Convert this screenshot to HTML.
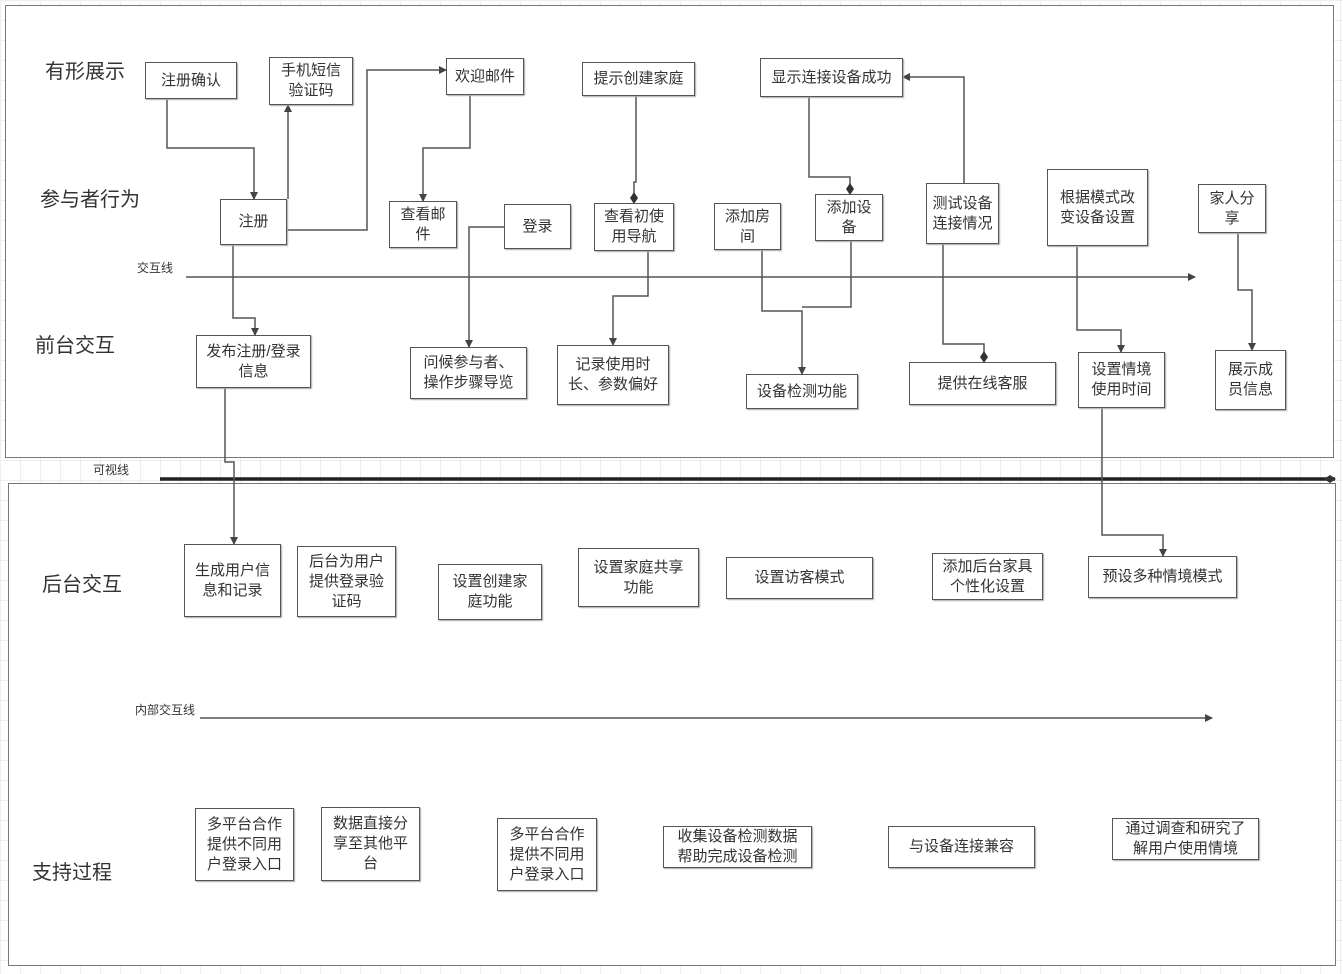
<!DOCTYPE html>
<html><head><meta charset="utf-8"><style>
html,body{margin:0;padding:0}
body{width:1343px;height:974px;position:relative;overflow:hidden;background:#fff;
background-image:linear-gradient(#eee 1px,transparent 1px),linear-gradient(90deg,#eee 1px,transparent 1px);background-size:20px 20px;
font-family:"Liberation Sans","Noto Sans CJK SC",sans-serif;color:#333}
.panel{position:absolute;background:#fff;border:1.5px solid #777}
.b{position:absolute;box-sizing:border-box;background:#fff;border:1.5px solid #555;box-shadow:1px 1px 1px #aaa;display:flex;align-items:center;justify-content:center;text-align:center;font-size:15px;line-height:20px;padding:0;white-space:nowrap;z-index:2}
.l{position:absolute;font-size:20px;z-index:2}
.s{position:absolute;font-size:12px;z-index:2}
svg{position:absolute;left:0;top:0;z-index:1}
</style></head><body>
<div class="panel" style="left:5px;top:5px;width:1327px;height:451px"></div>
<div class="panel" style="left:8px;top:483px;width:1326px;height:481px"></div>
<svg width="1343" height="974" viewBox="0 0 1343 974">
<defs>
<marker id="a" markerWidth="8" markerHeight="8" refX="7" refY="4" orient="auto" markerUnits="userSpaceOnUse"><path d="M0,0 L8,4 L0,8 z" fill="#444"/></marker>
<marker id="dd" markerWidth="12" markerHeight="8" refX="11" refY="4" orient="auto" markerUnits="userSpaceOnUse"><path d="M0,4 L6,0 L12,4 L6,8 z" fill="#333"/></marker>
</defs>
<g fill="none" stroke="#555" stroke-width="1.5">
<path d="M186,277 H1195" marker-end="url(#a)"/>
<path d="M200,718 H1212" marker-end="url(#a)"/>
<path d="M160,479 H1335" stroke="#222" stroke-width="3.5" marker-end="url(#dd)"/>
<path d="M167,99 V148 H254 V199" marker-end="url(#a)"/>
<path d="M288,199 V105" marker-end="url(#a)"/>
<path d="M287,230 H367 V70 H446" marker-end="url(#a)"/>
<path d="M470,95 V148 H423 V201" marker-end="url(#a)"/>
<path d="M504,227 H469 V347" marker-end="url(#a)"/>
<path d="M636,96 V182 H634 V203" marker-end="url(#dd)"/>
<path d="M648,251 V296 H613 V345" marker-end="url(#a)"/>
<path d="M233,245 V318 H255 V335" marker-end="url(#a)"/>
<path d="M225,388 V462 H234 V544" marker-end="url(#a)"/>
<path d="M809,97 V177 H850 V194" marker-end="url(#dd)"/>
<path d="M762,250 V311 H802 V374" marker-end="url(#a)"/>
<path d="M851,241 V307 H802"/>
<path d="M964,183 V77 H903" marker-end="url(#a)"/>
<path d="M943,244 V344 H984 V362" marker-end="url(#dd)"/>
<path d="M1077,246 V330 H1121 V352" marker-end="url(#a)"/>
<path d="M1238,233 V290 H1252 V350" marker-end="url(#a)"/>
<path d="M1102,408 V535 H1163 V556" marker-end="url(#a)"/>
</g>
</svg>
<div class="l" style="left:45px;top:55px">有形展示</div>
<div class="l" style="left:40px;top:183px">参与者行为</div>
<div class="l" style="left:35px;top:329px">前台交互</div>
<div class="l" style="left:42px;top:568px">后台交互</div>
<div class="l" style="left:32px;top:856px">支持过程</div>
<div class="s" style="left:137px;top:259px">交互线</div>
<div class="s" style="left:93px;top:461px">可视线</div>
<div class="s" style="left:135px;top:701px">内部交互线</div>

<div class="b" style="left:145px;top:62px;width:92px;height:37px">注册确认</div>
<div class="b" style="left:269px;top:57px;width:84px;height:48px">手机短信<br>验证码</div>
<div class="b" style="left:446px;top:58px;width:78px;height:37px">欢迎邮件</div>
<div class="b" style="left:582px;top:62px;width:113px;height:34px">提示创建家庭</div>
<div class="b" style="left:760px;top:58px;width:143px;height:39px">显示连接设备成功</div>
<div class="b" style="left:220px;top:199px;width:67px;height:46px">注册</div>
<div class="b" style="left:389px;top:201px;width:68px;height:47px">查看邮<br>件</div>
<div class="b" style="left:504px;top:204px;width:67px;height:45px">登录</div>
<div class="b" style="left:594px;top:203px;width:80px;height:48px">查看初使<br>用导航</div>
<div class="b" style="left:714px;top:203px;width:67px;height:47px">添加房<br>间</div>
<div class="b" style="left:815px;top:194px;width:68px;height:47px">添加设<br>备</div>
<div class="b" style="left:926px;top:183px;width:73px;height:61px">测试设备<br>连接情况</div>
<div class="b" style="left:1047px;top:169px;width:101px;height:77px">根据模式改<br>变设备设置</div>
<div class="b" style="left:1198px;top:184px;width:68px;height:49px">家人分<br>享</div>
<div class="b" style="left:196px;top:335px;width:115px;height:53px">发布注册/登录<br>信息</div>
<div class="b" style="left:410px;top:347px;width:117px;height:52px">问候参与者、<br>操作步骤导览</div>
<div class="b" style="left:557px;top:345px;width:112px;height:60px">记录使用时<br>长、参数偏好</div>
<div class="b" style="left:746px;top:374px;width:112px;height:35px">设备检测功能</div>
<div class="b" style="left:909px;top:362px;width:147px;height:43px">提供在线客服</div>
<div class="b" style="left:1078px;top:352px;width:87px;height:56px">设置情境<br>使用时间</div>
<div class="b" style="left:1215px;top:350px;width:71px;height:60px">展示成<br>员信息</div>

<div class="b" style="left:184px;top:544px;width:97px;height:73px">生成用户信<br>息和记录</div>
<div class="b" style="left:297px;top:546px;width:99px;height:71px">后台为用户<br>提供登录验<br>证码</div>
<div class="b" style="left:438px;top:564px;width:104px;height:56px">设置创建家<br>庭功能</div>
<div class="b" style="left:578px;top:548px;width:121px;height:59px">设置家庭共享<br>功能</div>
<div class="b" style="left:726px;top:557px;width:147px;height:42px">设置访客模式</div>
<div class="b" style="left:932px;top:553px;width:111px;height:47px">添加后台家具<br>个性化设置</div>
<div class="b" style="left:1088px;top:556px;width:149px;height:42px">预设多种情境模式</div>
<div class="b" style="left:195px;top:808px;width:99px;height:73px">多平台合作<br>提供不同用<br>户登录入口</div>
<div class="b" style="left:321px;top:807px;width:99px;height:74px">数据直接分<br>享至其他平<br>台</div>
<div class="b" style="left:497px;top:818px;width:100px;height:73px">多平台合作<br>提供不同用<br>户登录入口</div>
<div class="b" style="left:663px;top:826px;width:149px;height:42px">收集设备检测数据<br>帮助完成设备检测</div>
<div class="b" style="left:888px;top:826px;width:147px;height:42px">与设备连接兼容</div>
<div class="b" style="left:1112px;top:818px;width:147px;height:42px">通过调查和研究了<br>解用户使用情境</div>
</body></html>
